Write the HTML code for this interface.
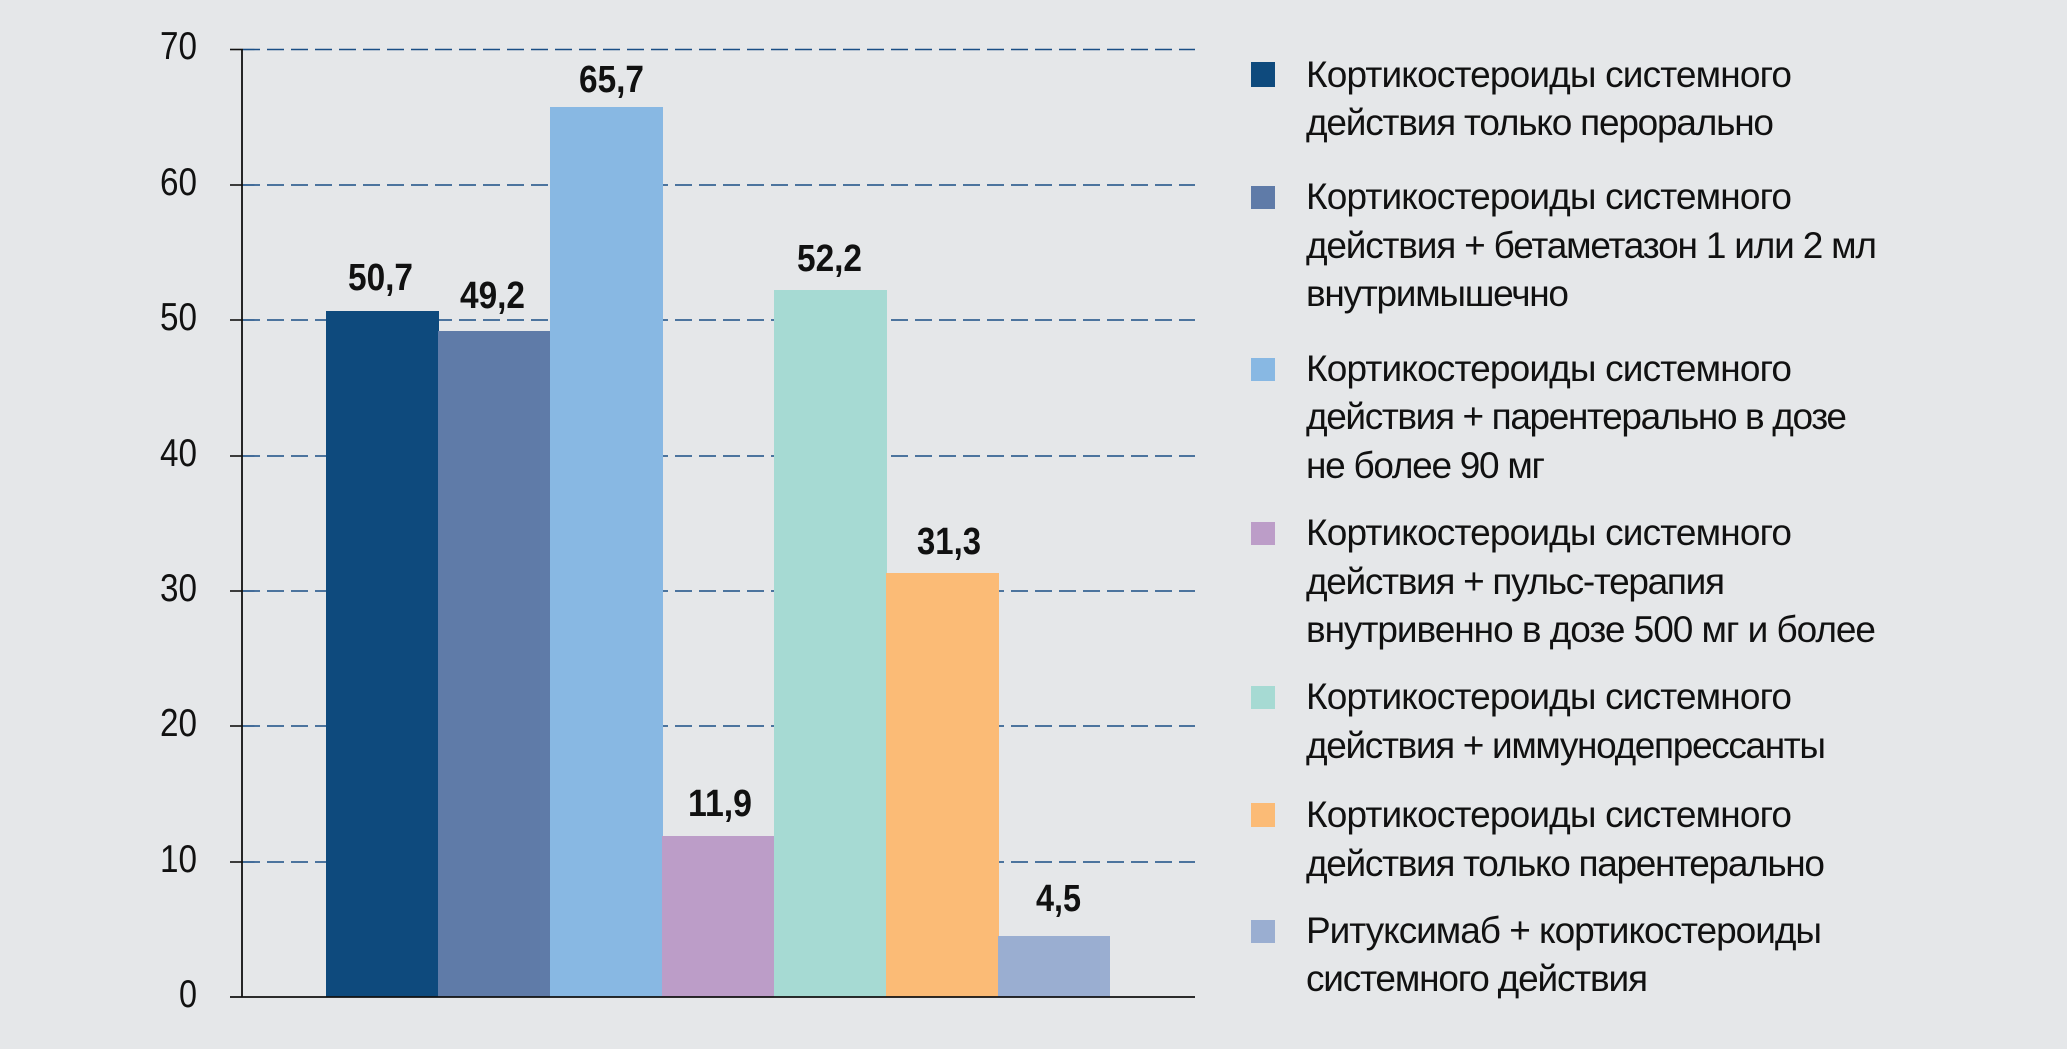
<!DOCTYPE html>
<html><head><meta charset="utf-8"><style>
html,body{margin:0;padding:0;background:#e5e7e9;}
svg{display:block}
.t{font-family:"Liberation Sans",sans-serif;fill:#111;}
</style></head><body>
<svg width="2067" height="1049" viewBox="0 0 2067 1049" xmlns="http://www.w3.org/2000/svg">
<rect width="2067" height="1049" fill="#e5e7e9"/>
<g stroke="#1a4e85" stroke-width="1.6" stroke-dasharray="17,7">
<line x1="243" y1="49.5" x2="1195" y2="49.5"/>
<line x1="243" y1="185" x2="1195" y2="185"/>
<line x1="243" y1="320" x2="1195" y2="320"/>
<line x1="243" y1="456" x2="1195" y2="456"/>
<line x1="243" y1="591" x2="1195" y2="591"/>
<line x1="243" y1="726" x2="1195" y2="726"/>
<line x1="243" y1="862" x2="1195" y2="862"/>
</g>
<g stroke="#111" stroke-width="1.6">
<line x1="230" y1="49.5" x2="243" y2="49.5"/>
<line x1="230" y1="185" x2="243" y2="185"/>
<line x1="230" y1="320" x2="243" y2="320"/>
<line x1="230" y1="456" x2="243" y2="456"/>
<line x1="230" y1="591" x2="243" y2="591"/>
<line x1="230" y1="726" x2="243" y2="726"/>
<line x1="230" y1="862" x2="243" y2="862"/>
</g>
<rect x="326" y="311" width="113" height="686" fill="#0e4a7d"/>
<rect x="438" y="331" width="113" height="666" fill="#5f7ba8"/>
<rect x="550" y="107" width="113" height="890" fill="#88b8e3"/>
<rect x="662" y="836" width="113" height="161" fill="#bc9dc8"/>
<rect x="774" y="290" width="113" height="707" fill="#a6dad3"/>
<rect x="886" y="573" width="113" height="424" fill="#fbbb76"/>
<rect x="998" y="936" width="112" height="61" fill="#9aaed1"/>
<g stroke="#111" stroke-width="1.8">
<line x1="242" y1="49" x2="242" y2="997"/>
<line x1="230" y1="997" x2="1195" y2="997"/>
</g>
<g class="t" font-size="39" text-anchor="end">
<text x="197" y="59" textLength="37" lengthAdjust="spacingAndGlyphs">70</text>
<text x="197" y="195" textLength="37" lengthAdjust="spacingAndGlyphs">60</text>
<text x="197" y="330" textLength="37" lengthAdjust="spacingAndGlyphs">50</text>
<text x="197" y="466" textLength="37" lengthAdjust="spacingAndGlyphs">40</text>
<text x="197" y="601" textLength="37" lengthAdjust="spacingAndGlyphs">30</text>
<text x="197" y="736" textLength="37" lengthAdjust="spacingAndGlyphs">20</text>
<text x="197" y="872" textLength="37" lengthAdjust="spacingAndGlyphs">10</text>
<text x="197" y="1007" textLength="18" lengthAdjust="spacingAndGlyphs">0</text>
</g>
<g class="t" font-size="38" font-weight="bold">
<text x="348" y="290" textLength="65" lengthAdjust="spacingAndGlyphs">50,7</text>
<text x="460" y="308" textLength="65" lengthAdjust="spacingAndGlyphs">49,2</text>
<text x="579" y="92" textLength="65" lengthAdjust="spacingAndGlyphs">65,7</text>
<text x="688" y="816" textLength="64" lengthAdjust="spacingAndGlyphs">11,9</text>
<text x="797" y="271" textLength="65" lengthAdjust="spacingAndGlyphs">52,2</text>
<text x="917" y="554" textLength="64" lengthAdjust="spacingAndGlyphs">31,3</text>
<text x="1036" y="911" textLength="45" lengthAdjust="spacingAndGlyphs">4,5</text>
</g>
<rect x="1251" y="62" width="24" height="25" fill="#0e4a7d"/>
<rect x="1251" y="186" width="24" height="23" fill="#5f7ba8"/>
<rect x="1251" y="358" width="24" height="23" fill="#88b8e3"/>
<rect x="1251" y="522" width="24" height="23" fill="#bc9dc8"/>
<rect x="1251" y="686" width="24" height="23" fill="#a6dad3"/>
<rect x="1251" y="803" width="24" height="24" fill="#fbbb76"/>
<rect x="1251" y="920" width="24" height="23" fill="#9aaed1"/>
<g class="t" font-size="37" lengthAdjust="spacingAndGlyphs">
<text x="1306" y="87" textLength="486">Кортикостероиды системного</text>
<text x="1306" y="135" textLength="468">действия только перорально</text>
<text x="1306" y="209" textLength="486">Кортикостероиды системного</text>
<text x="1306" y="258" textLength="571">действия + бетаметазон 1 или 2 мл</text>
<text x="1306" y="306" textLength="263">внутримышечно</text>
<text x="1306" y="381" textLength="486">Кортикостероиды системного</text>
<text x="1306" y="429" textLength="541">действия + парентерально в дозе</text>
<text x="1306" y="478" textLength="239">не более 90 мг</text>
<text x="1306" y="545" textLength="486">Кортикостероиды системного</text>
<text x="1306" y="594" textLength="419">действия + пульс-терапия</text>
<text x="1306" y="642" textLength="570">внутривенно в дозе 500 мг и более</text>
<text x="1306" y="709" textLength="486">Кортикостероиды системного</text>
<text x="1306" y="758" textLength="520">действия + иммунодепрессанты</text>
<text x="1306" y="827" textLength="486">Кортикостероиды системного</text>
<text x="1306" y="876" textLength="519">действия только парентерально</text>
<text x="1306" y="943" textLength="516">Ритуксимаб + кортикостероиды</text>
<text x="1306" y="991" textLength="342">системного действия</text>
</g>
</svg>
</body></html>
